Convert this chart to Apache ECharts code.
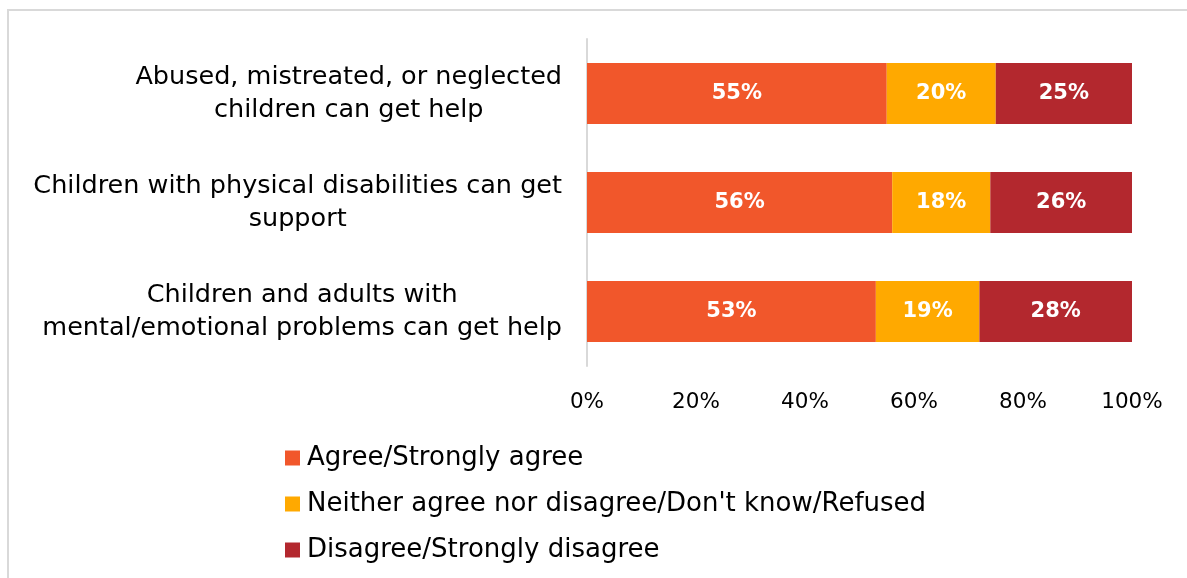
<!DOCTYPE html>
<html><head><meta charset="utf-8">
<script src="https://cdn.jsdelivr.net/npm/echarts@6/dist/echarts.min.js"></script>
<style>html,body{margin:0;padding:0;background:#fff}#c{width:1187px;height:578px}</style>
</head><body><div id="c"></div>
<script>
const categories = [
  "Abused, mistreated, or neglected\nchildren can get help",
  "Children with physical disabilities can get\nsupport",
  "Children and adults with\nmental/emotional problems can get help"
];
const seriesNames = ["Agree/Strongly agree", "Neither agree nor disagree/Don't know/Refused", "Disagree/Strongly disagree"];
const agree = [55, 56, 53];
const neither = [20, 18, 19];
const disagree = [25, 26, 28];
const colors = ["#F1572B", "#FFA900", "#B3282E"];
const FONT = "DejaVu Sans";

const chart = echarts.init(document.getElementById('c'), null, {renderer: 'canvas'});
const mk = (name, data, color) => ({
  name, type: 'bar', stack: 'all', data, barWidth: 61,
  itemStyle: {color},
  label: {show: true, position: 'inside', formatter: p => p.value + '%', color: '#fff', fontFamily: FONT, fontWeight: 'bold', fontSize: 21}
});
chart.setOption({
  animation: false,
  textStyle: {fontFamily: FONT},
  graphic: [{type: 'rect', shape: {x: 8, y: 10, width: 1200, height: 600}, style: {fill: 'none', stroke: '#d9d9d9', lineWidth: 2}}],
  grid: {left: 587, right: 55, top: 39, height: 327},
  xAxis: {
    type: 'value', min: 0, max: 100, interval: 20,
    axisLabel: {formatter: '{value}%', fontFamily: FONT, fontSize: 21.5, color: '#000', margin: 25},
    axisLine: {show: false}, axisTick: {show: false}, splitLine: {show: false}
  },
  yAxis: {
    type: 'category', data: categories, inverse: true,
    axisLine: {show: true, lineStyle: {color: '#d9d9d9', width: 2}},
    axisTick: {show: false},
    axisLabel: {
      margin: 25, align: 'right', color: '#000', fontFamily: FONT, fontSize: 25.5, lineHeight: 33,
      formatter: v => v.split('\n').map(s => '{a|' + s + '}').join('\n'),
      rich: {a: {align: 'center', fontFamily: FONT, fontSize: 25.5, lineHeight: 33, color: '#000'}}
    }
  },
  legend: {
    orient: 'vertical', left: 280, top: 440, itemWidth: 15, itemHeight: 15, itemGap: 20,
    icon: 'rect',
    textStyle: {fontFamily: FONT, fontSize: 26, lineHeight: 26, color: '#000', padding: [0,0,0,2]},
    data: seriesNames
  },
  color: colors,
  series: [mk(seriesNames[0], agree, colors[0]), mk(seriesNames[1], neither, colors[1]), mk(seriesNames[2], disagree, colors[2])]
});
</script></body></html>
